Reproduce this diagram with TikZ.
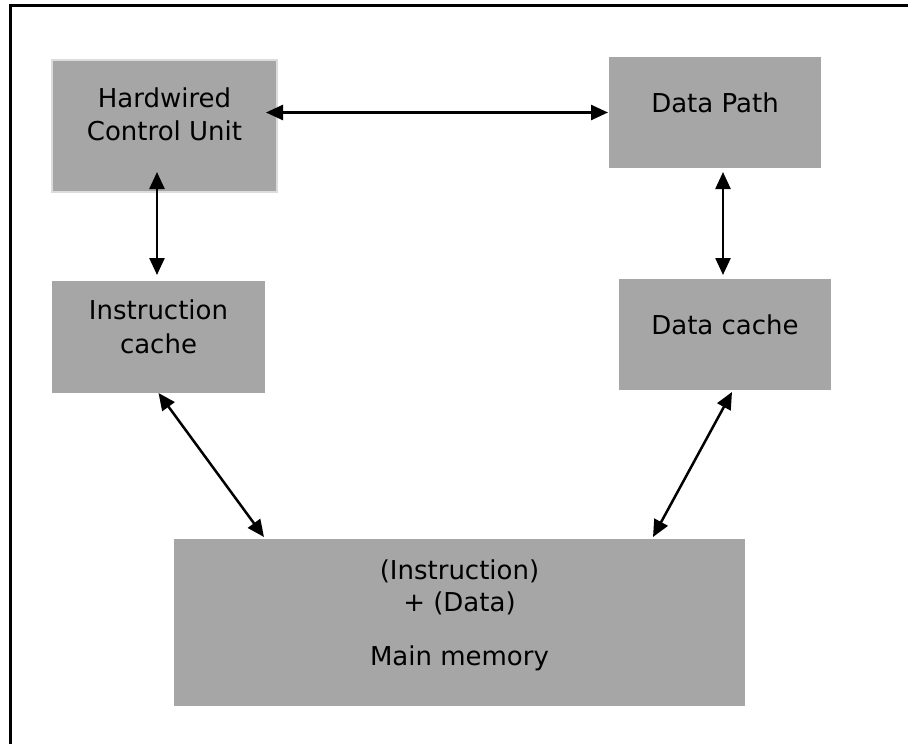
\documentclass[tikz,border=0pt]{standalone}
\usepackage{fontspec}
\setmainfont{DejaVu Sans}
\usetikzlibrary{arrows.meta}
\definecolor{boxgray}{HTML}{A6A6A6}
\definecolor{edgegray}{HTML}{DCDCDC}
\begin{document}
\begin{tikzpicture}[x=1pt,y=-1pt,
  blk/.style={fill=boxgray, draw=none, inner sep=0pt, outer sep=0pt},
  lbl/.style={font=\fontsize{26}{33}\selectfont, anchor=base, inner sep=0pt},
  link/.style={line width=2.5pt, {Triangle[length=17pt,width=15pt]}-{Triangle[length=17pt,width=15pt]}}]
\useasboundingbox (0,0) rectangle (908,744);
\draw[line width=2.8pt] (10.5,744) -- (10.5,5.5) -- (908,5.5);
% boxes
\node[blk, draw=edgegray, line width=2pt, minimum width=225pt, minimum height=132pt] (hcu) at (164.5,126) {};
\node[blk, minimum width=212pt, minimum height=111pt] (dp) at (715,112.5) {};
\node[blk, minimum width=213pt, minimum height=112pt] (ic) at (158.5,337) {};
\node[blk, minimum width=212pt, minimum height=111pt] (dc) at (725,334.5) {};
\node[blk, minimum width=571pt, minimum height=167pt] (mm) at (459.5,622.5) {};
% labels
\node[lbl] (hcut1) at (164.5,107) {Hardwired};
\node[lbl] (hcut2) at (164.5,140) {Control Unit};
\node[lbl] (dpt) at (715,112) {Data Path};
\node[lbl] (ict1) at (158.5,319) {Instruction};
\node[lbl] (ict2) at (158.5,353) {cache};
\node[lbl] (dct) at (725,334) {Data cache};
\node[lbl] (mmt1) at (459.5,579) {(Instruction)};
\node[lbl] (mmt2) at (459.5,611) {+ (Data)};
\node[lbl] (mmt3) at (459.5,665) {Main memory};
% connectors
\draw[link] ([xshift=-11pt]hcu.east |- dp.west) -- ([xshift=-1pt]dp.west);
\draw[link] ([xshift=-7.5pt,yshift=20pt]hcu.south) -- ([xshift=-1.5pt,yshift=6pt]ic.north);
\draw[link] ([xshift=8pt,yshift=-4pt]dp.south) -- ([xshift=-2pt,yshift=4pt]dc.north);
\draw[link] (ic.south) -- ([xshift=-195.5pt,yshift=2pt]mm.north);
\draw[link] ([xshift=7pt,yshift=-2pt]dc.south) -- ([xshift=193.5pt,yshift=2pt]mm.north);
\end{tikzpicture}
\end{document}
